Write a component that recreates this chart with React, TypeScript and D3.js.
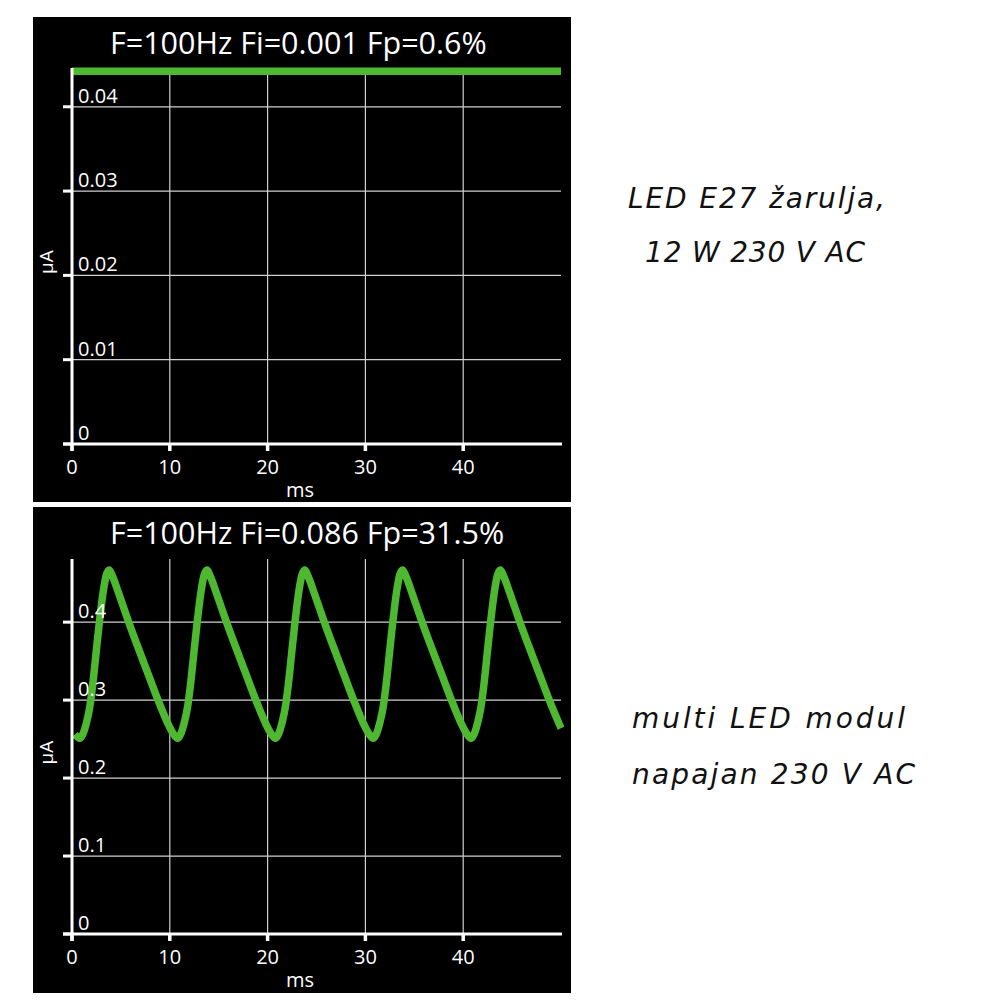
import React from "react";
import * as d3 from "d3";

// ---------- data ----------
const xTicks = [0, 10, 20, 30, 40];
const topYTicks = [0, 0.01, 0.02, 0.03, 0.04];
const bottomYTicks = [0, 0.1, 0.2, 0.3, 0.4];

const topTitle = "F=100Hz Fi=0.001 Fp=0.6%";
const bottomTitle = "F=100Hz Fi=0.086 Fp=31.5%";

const topTime = [0, 50];
const topValues = [0.0442, 0.0442];

const bottomTime = [
  0.3, 0.8, 1.1, 1.5, 1.8, 2.1, 2.5, 2.8, 3.2, 3.5, 3.8, 4.1, 4.8, 5.8, 6.8, 7.8, 8.8, 9.8, 10.3, 10.8,
  11.1, 11.5, 11.8, 12.1, 12.5, 12.8, 13.2, 13.5, 13.8, 14.1, 14.8, 15.8, 16.8, 17.8, 18.8, 19.8, 20.3, 20.8,
  21.1, 21.5, 21.8, 22.1, 22.5, 22.8, 23.2, 23.5, 23.8, 24.1, 24.8, 25.8, 26.8, 27.8, 28.8, 29.8, 30.3, 30.8,
  31.1, 31.5, 31.8, 32.1, 32.5, 32.8, 33.2, 33.5, 33.8, 34.1, 34.8, 35.8, 36.8, 37.8, 38.8, 39.8, 40.3, 40.8,
  41.1, 41.5, 41.8, 42.1, 42.5, 42.8, 43.2, 43.5, 43.8, 44.1, 44.8, 45.8, 46.8, 47.8, 48.8, 50.0,
];
const bottomValues = [
  0.256, 0.251, 0.256, 0.272, 0.290, 0.318, 0.365, 0.400, 0.440, 0.460, 0.467, 0.460, 0.436, 0.400, 0.366, 0.333, 0.300, 0.270, 0.258, 0.251,
  0.256, 0.272, 0.290, 0.318, 0.365, 0.400, 0.440, 0.460, 0.467, 0.460, 0.436, 0.400, 0.366, 0.333, 0.300, 0.270, 0.258, 0.251,
  0.256, 0.272, 0.290, 0.318, 0.365, 0.400, 0.440, 0.460, 0.467, 0.460, 0.436, 0.400, 0.366, 0.333, 0.300, 0.270, 0.258, 0.251,
  0.256, 0.272, 0.290, 0.318, 0.365, 0.400, 0.440, 0.460, 0.467, 0.460, 0.436, 0.400, 0.366, 0.333, 0.300, 0.270, 0.258, 0.251,
  0.256, 0.272, 0.290, 0.318, 0.365, 0.400, 0.440, 0.460, 0.467, 0.460, 0.436, 0.400, 0.366, 0.333, 0.300, 0.264,
];

const sideTop = ["LED E27 žarulja,", "12 W 230 V AC"];
const sideBottom = ["multi LED modul", "napajan 230 V AC"];

// ---------- styles ----------
const GREEN = "#4db830";
const FONT = "'Open Sans', 'Noto Sans', sans-serif";

type PanelProps = {
  top: number;
  bottom: number;
  axisTop: number;
  axisY: number;
  yMax: number;
  yTicks: number[];
  tickFmt: (v: number) => string;
  title: string;
  times: number[];
  values: number[];
};

function Panel(p: PanelProps) {
  const x = d3.scaleLinear().domain([0, 50]).range([72, 561]);
  const y = d3.scaleLinear().domain([0, p.yMax]).range([p.axisY, p.axisTop]);
  const pts = p.times.map((t, i) => [t, p.values[i]] as [number, number]);
  const line = d3
    .line<[number, number]>()
    .x((d) => x(d[0]))
    .y((d) => y(d[1]))
    .curve(d3.curveMonotoneX);
  const x0 = x(0);
  const x1 = x(50);
  return (
    <g>
      <rect x={33} y={p.top} width={538} height={p.bottom - p.top} fill="#000" />
      {/* grid */}
      {xTicks.slice(1).map((t) => (
        <line key={"gx" + t} x1={x(t)} x2={x(t)} y1={p.axisY} y2={p.axisTop} stroke="#d0d0d0" strokeWidth={1.2} />
      ))}
      {p.yTicks.slice(1).map((t) => (
        <line key={"gy" + t} x1={x0} x2={x1} y1={y(t)} y2={y(t)} stroke="#d0d0d0" strokeWidth={1.2} />
      ))}
      {/* data */}
      <path d={line(pts) || ""} fill="none" stroke={GREEN} strokeWidth={7.5} strokeLinejoin="round" />
      {/* axes */}
      <line x1={x0} x2={x0} y1={p.axisTop} y2={p.axisY + 7} stroke="#fff" strokeWidth={3} />
      <line x1={63} x2={x1 + 1} y1={p.axisY} y2={p.axisY} stroke="#fff" strokeWidth={3} />
      {p.yTicks.map((t) => (
        <line key={"ty" + t} x1={63} x2={x0} y1={y(t)} y2={y(t)} stroke="#fff" strokeWidth={3} />
      ))}
      {xTicks.map((t) => (
        <line key={"tx" + t} x1={x(t)} x2={x(t)} y1={p.axisY} y2={p.axisY + 7} stroke="#fff" strokeWidth={3.5} />
      ))}
      {/* labels */}
      {p.yTicks.map((t) => (
        <text key={"ly" + t} x={78} y={y(t) - 4} fill="#fff" fontSize={20} fontFamily={FONT}>
          {p.tickFmt(t)}
        </text>
      ))}
      {xTicks.map((t) => (
        <text key={"lx" + t} x={x(t)} y={p.axisY + 30} fill="#fff" fontSize={20} fontFamily={FONT} textAnchor="middle">
          {t}
        </text>
      ))}
      <text x={300} y={p.axisY + 53} fill="#fff" fontSize={20} fontFamily={FONT} textAnchor="middle">
        ms
      </text>
      <text
        transform={`translate(53,${(p.axisTop + p.axisY) / 2 + 6}) rotate(-90)`}
        fill="#fff"
        fontSize={19}
        fontFamily={FONT}
        textAnchor="middle"
      >
        µA
      </text>
      <text x={110} y={p.top + 37} fill="#fff" fontSize={30.5} fontFamily={FONT}>
        {p.title}
      </text>
    </g>
  );
}

function SideText({ lines, cx, ys, widths }: { lines: string[]; cx: number[]; ys: number[]; widths: number[] }) {
  return (
    <g>
      {lines.map((s, i) => (
        <text
          key={i}
          x={cx[i]}
          y={ys[i]}
          textAnchor="middle"
          fontSize={28}
          fontStyle="italic"
          fontFamily="'DejaVu Sans', sans-serif"
          fill="#111"
          textLength={widths[i]}
          lengthAdjust="spacing"
        >
          {s}
        </text>
      ))}
    </g>
  );
}

export default function App() {
  return (
    <svg
      width={1000}
      height={1000}
      style={{ position: "absolute", left: 0, top: 0, background: "#fff" }}
    >
      <rect x={0} y={0} width={1000} height={1000} fill="#fff" />
      <Panel
        top={17}
        bottom={502}
        axisTop={68}
        axisY={444}
        yMax={0.0446}
        yTicks={topYTicks}
        tickFmt={(v) => (v === 0 ? "0" : v.toFixed(2))}
        title={topTitle}
        times={topTime}
        values={topValues}
      />
      <Panel
        top={507}
        bottom={993}
        axisTop={559}
        axisY={934}
        yMax={0.481}
        yTicks={bottomYTicks}
        tickFmt={(v) => (v === 0 ? "0" : v.toFixed(1))}
        title={bottomTitle}
        times={bottomTime}
        values={bottomValues}
      />
      <SideText lines={sideTop} cx={[756.5, 755]} ys={[208, 262]} widths={[257, 220]} />
      <SideText lines={sideBottom} cx={[768.5, 773.5]} ys={[728, 784]} widths={[273, 283]} />
    </svg>
  );
}
